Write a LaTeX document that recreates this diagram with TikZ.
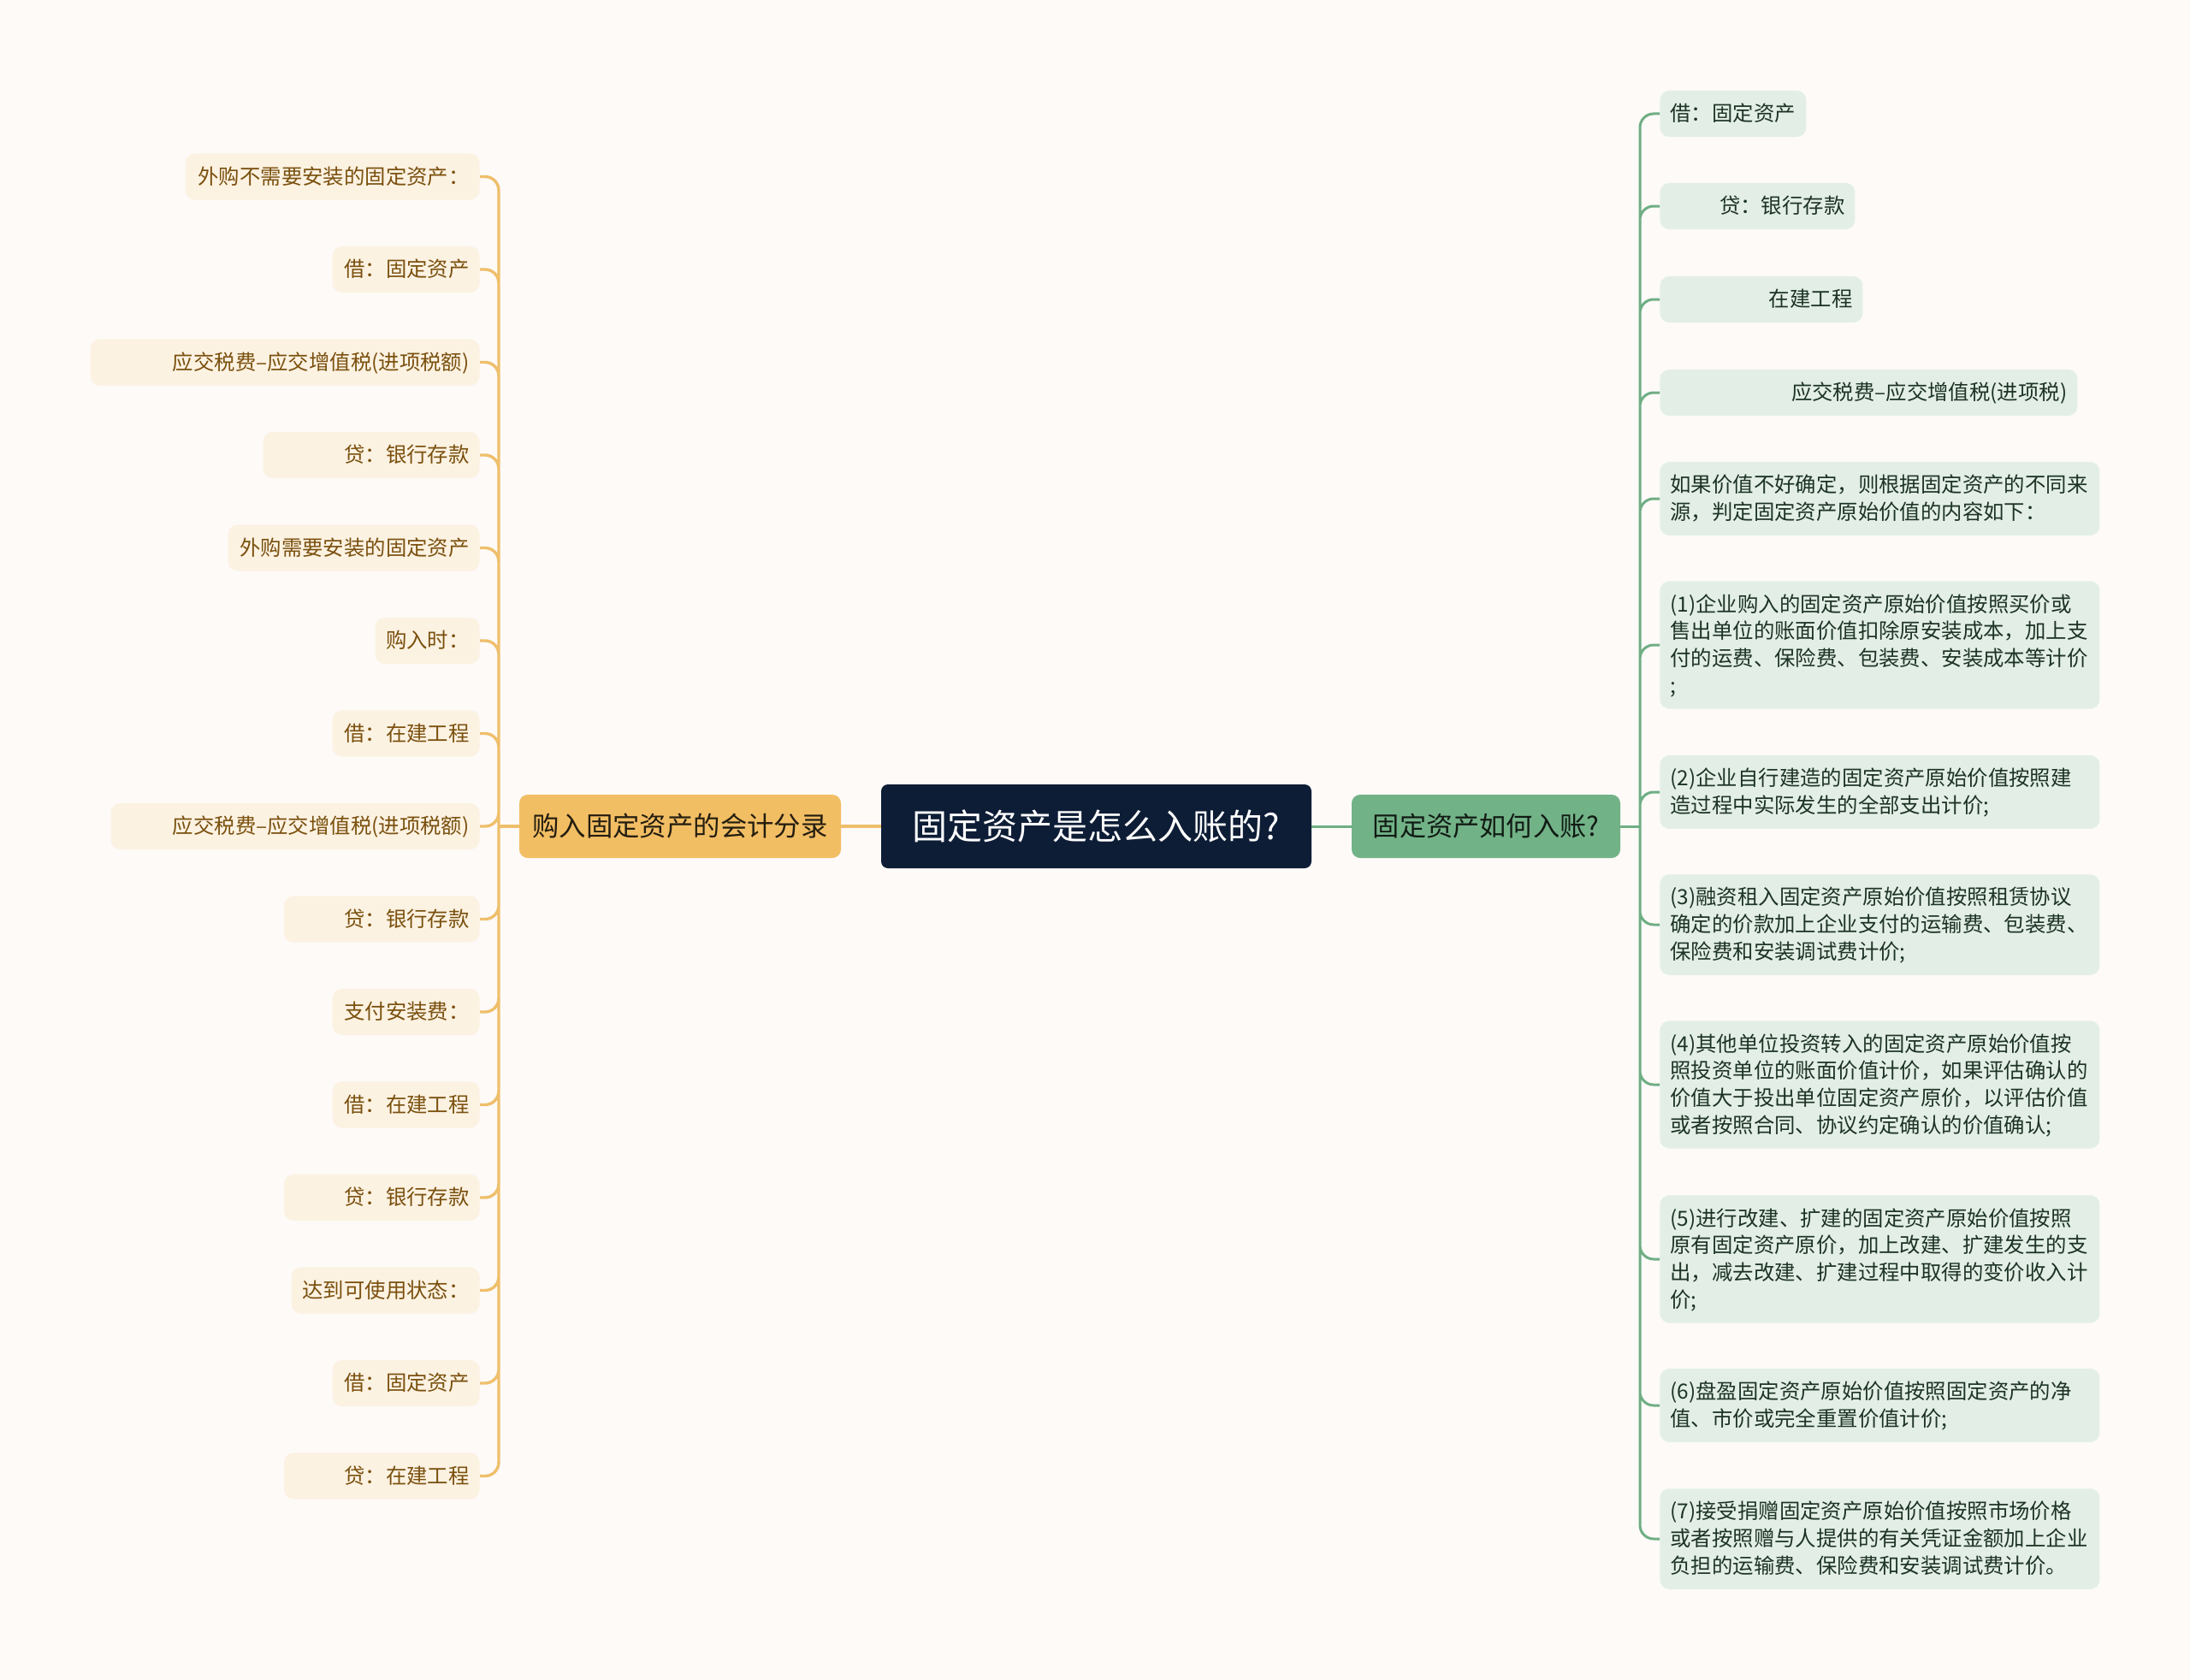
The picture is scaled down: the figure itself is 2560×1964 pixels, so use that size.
\documentclass[tikz,border=0pt]{standalone}
\usepackage{fontspec}
\setmainfont{Noto Sans CJK SC}
\definecolor{cpaper}{HTML}{FDFAF8}
\definecolor{croot}{HTML}{0E1D36}
\definecolor{cbuyline}{HTML}{EFBF6C}
\definecolor{cbuyfill}{HTML}{F2BE64}
\definecolor{cbuyleaf}{HTML}{FCF2E2}
\definecolor{cbuytext}{HTML}{7A500E}
\definecolor{chowline}{HTML}{6FAE84}
\definecolor{chowfill}{HTML}{72B287}
\definecolor{chowleaf}{HTML}{E3EFE6}
\definecolor{chowtext}{HTML}{1D3325}
\newcommand\leaffont{\fontsize{12.2}{15.85}\selectfont}
\newcommand\leafstrut{\rule[-3.6pt]{0pt}{15.85pt}}

\begin{document}
\begin{tikzpicture}[x=0.5pt,y=-0.5pt,
    root/.style={fill=croot,text=white,rounded corners=4pt,minimum width=251.5pt,minimum height=49pt,inner sep=0pt,font=\fontsize{20.5}{24}\selectfont},
    buymain/.style={fill=cbuyfill,text=black!85!cbuyfill,rounded corners=5pt,minimum width=188pt,minimum height=37pt,inner sep=0pt,font=\fontsize{15.7}{19}\selectfont},
    howmain/.style={fill=chowfill,text=black!85!chowfill,rounded corners=5pt,minimum width=157pt,minimum height=37pt,inner sep=0pt,font=\fontsize{15.6}{19}\selectfont},
    leaf/.style={rounded corners=5.5pt,inner xsep=6pt,inner ysep=5.6pt,font=\leaffont,execute at begin node=\leafstrut,execute at end node=\leafstrut},
    buyleaf/.style={leaf,fill=cbuyleaf,text=cbuytext,anchor=east,text width=#1,align=right},
    howleaf/.style={leaf,fill=chowleaf,text=chowtext,anchor=west,text width=#1,align=left},
    howleafr/.style={leaf,fill=chowleaf,text=chowtext,anchor=west,text width=#1,align=right},
    buylink/.style={draw=cbuyline,line width=1.7pt,rounded corners=8pt},
    howlink/.style={draw=chowline,line width=1.5pt,rounded corners=8pt}]

  \fill[cpaper] (0,0) rectangle (2560,1964);
  \useasboundingbox (0,0) rectangle (2560,1964);

  % centre and the two main branches
  \node[root] (root) at (1281.5,966) {固定资产是怎么入账的?};
  \node[buymain] (buy) at (795,966) {购入固定资产的会计分录};
  \node[howmain] (how) at (1737,966) {固定资产如何入账?};
  \coordinate (ljoint) at (583,966);
  \coordinate (rjoint) at (1917,966);

  % left: accounting entries
  \node[buyleaf=160pt] (buy1) at (561,206.5) {外购不需要安装的固定资产：};
  \node[buyleaf=74pt] (buy2) at (561,315) {借：固定资产};
  \node[buyleaf=215.5pt] (buy3) at (561,423.5) {应交税费–应交增值税(进项税额)};
  \node[buyleaf=114.5pt] (buy4) at (561,532) {贷：银行存款};
  \node[buyleaf=135pt] (buy5) at (561,640.5) {外购需要安装的固定资产};
  \node[buyleaf=49pt] (buy6) at (561,749) {购入时：};
  \node[buyleaf=74pt] (buy7) at (561,857.5) {借：在建工程};
  \node[buyleaf=203.5pt] (buy8) at (561,966) {应交税费–应交增值税(进项税额)};
  \node[buyleaf=102.25pt] (buy9) at (561,1074.5) {贷：银行存款};
  \node[buyleaf=74pt] (buy10) at (561,1183) {支付安装费：};
  \node[buyleaf=74pt] (buy11) at (561,1291.5) {借：在建工程};
  \node[buyleaf=102.25pt] (buy12) at (561,1400) {贷：银行存款};
  \node[buyleaf=98pt] (buy13) at (561,1508.5) {达到可使用状态：};
  \node[buyleaf=74pt] (buy14) at (561,1617) {借：固定资产};
  \node[buyleaf=102.25pt] (buy15) at (561,1725.5) {贷：在建工程};

  % right: how the value is recorded
  \node[howleaf=73.5pt] (how1) at (1940,133) {借：固定资产};
  \node[howleafr=102pt] (how2) at (1940,241) {贷：银行存款};
  \node[howleafr=106.5pt] (how3) at (1940,350) {在建工程};
  \node[howleafr=232pt] (how4) at (1940,459) {应交税费–应交增值税(进项税)};
  \node[howleaf=245pt] (how5) at (1940,583) {如果价值不好确定，则根据固定资产的不同来\\源，判定固定资产原始价值的内容如下：};
  \node[howleaf=245pt] (how6) at (1940,754) {(1)企业购入的固定资产原始价值按照买价或\\售出单位的账面价值扣除原安装成本，加上支\\付的运费、保险费、包装费、安装成本等计价\\;};
  \node[howleaf=245pt] (how7) at (1940,926) {(2)企业自行建造的固定资产原始价值按照建\\造过程中实际发生的全部支出计价;};
  \node[howleaf=245pt] (how8) at (1940,1081) {(3)融资租入固定资产原始价值按照租赁协议\\确定的价款加上企业支付的运输费、包装费、\\保险费和安装调试费计价;};
  \node[howleaf=245pt] (how9) at (1940,1268) {(4)其他单位投资转入的固定资产原始价值按\\照投资单位的账面价值计价，如果评估确认的\\价值大于投出单位固定资产原价，以评估价值\\或者按照合同、协议约定确认的价值确认;};
  \node[howleaf=245pt] (how10) at (1940,1472) {(5)进行改建、扩建的固定资产原始价值按照\\原有固定资产原价，加上改建、扩建发生的支\\出，减去改建、扩建过程中取得的变价收入计\\价;};
  \node[howleaf=245pt] (how11) at (1940,1643) {(6)盘盈固定资产原始价值按照固定资产的净\\值、市价或完全重置价值计价;};
  \node[howleaf=245pt] (how12) at (1940,1799) {(7)接受捐赠固定资产原始价值按照市场价格\\或者按照赠与人提供的有关凭证金额加上企业\\负担的运输费、保险费和安装调试费计价。};

  % connectors
  \draw[buylink] (root.west) -- (buy.east);
  \draw[howlink] (root.east) -- (how.west);
  \draw[buylink] (buy.west) -- (ljoint);
  \draw[howlink] (how.east) -- (rjoint);
  \draw[buylink] (ljoint) |- (buy1.east) (ljoint) |- (buy2.east) (ljoint) |- (buy3.east)
    (ljoint) |- (buy4.east) (ljoint) |- (buy5.east) (ljoint) |- (buy6.east)
    (ljoint) |- (buy7.east) (ljoint) |- (buy8.east) (ljoint) |- (buy9.east)
    (ljoint) |- (buy10.east) (ljoint) |- (buy11.east) (ljoint) |- (buy12.east)
    (ljoint) |- (buy13.east) (ljoint) |- (buy14.east) (ljoint) |- (buy15.east);
  \draw[howlink] (rjoint) |- (how1.west) (rjoint) |- (how2.west) (rjoint) |- (how3.west)
    (rjoint) |- (how4.west) (rjoint) |- (how5.west) (rjoint) |- (how6.west)
    (rjoint) |- (how7.west) (rjoint) |- (how8.west) (rjoint) |- (how9.west)
    (rjoint) |- (how10.west) (rjoint) |- (how11.west) (rjoint) |- (how12.west);
\end{tikzpicture}
\end{document}
